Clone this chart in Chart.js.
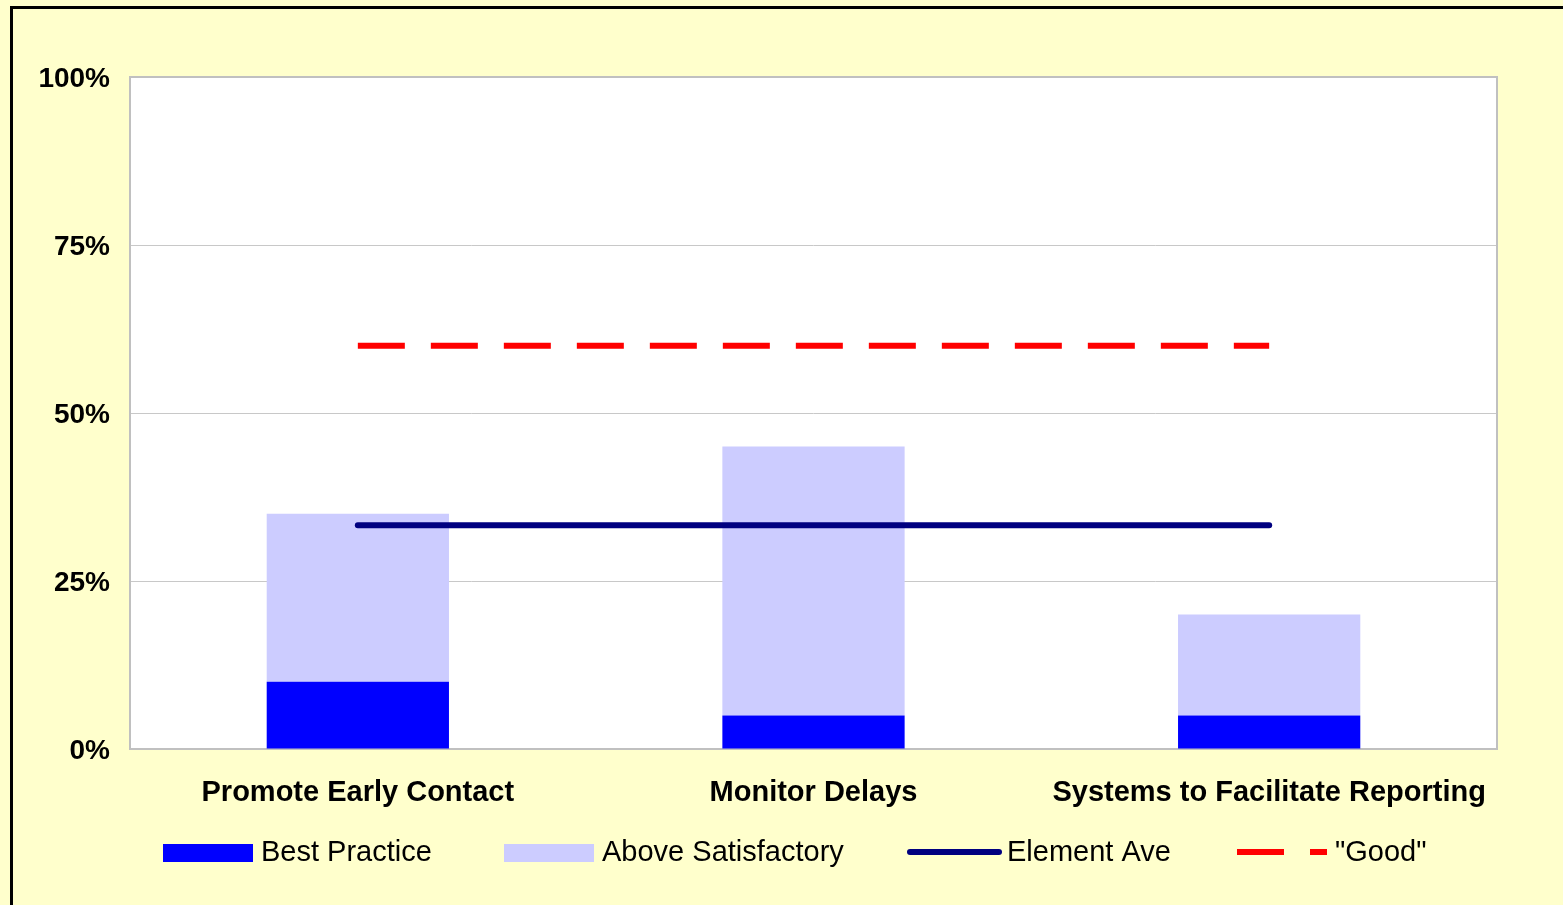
<!DOCTYPE html>
<html>
<head>
<meta charset="utf-8">
<title>Element scores</title>
<script src="https://cdn.jsdelivr.net/npm/chart.js@4/dist/chart.umd.min.js"></script>
<style>
  html, body { margin: 0; padding: 0; background: #FFFFCC; overflow: hidden; }
  #wrap { position: absolute; left: 0; top: 0; width: 1563px; height: 905px; }
</style>
</head>
<body>
<div id="wrap"><canvas id="chart" width="1563" height="905"></canvas></div>
<script>
// Categories and series (percent)
const categories = ['Promote Early Contact', 'Monitor Delays', 'Systems to Facilitate Reporting'];
const bestPractice = [10, 5, 5];
const aboveSatisfactory = [25, 40, 15];
const elementAve = [33.3, 33.3, 33.3];
const goodLevel = [60, 60, 60];
const yTicks = [0, 25, 50, 75, 100];

const FONT = '"Liberation Sans", Arial, sans-serif';

// Yellow page, black frame edge and white plot area
const framePlugin = {
  id: 'frame',
  beforeDraw(chart) {
    const { ctx, width, height, chartArea: a } = chart;
    ctx.save();
    ctx.fillStyle = '#FFFFCC';
    ctx.fillRect(0, 0, width, height);
    ctx.fillStyle = '#000000';
    ctx.fillRect(10, 6, 3, height);
    ctx.fillRect(10, 6, width, 3);
    ctx.fillStyle = '#FFFFFF';
    ctx.fillRect(a.left, a.top, a.right - a.left, a.bottom - a.top);
    ctx.restore();
  },
  beforeDatasetsDraw(chart) {
    const { ctx, chartArea: a } = chart;
    ctx.save();
    ctx.strokeStyle = '#C0C0C0';
    ctx.lineWidth = 2;
    ctx.strokeRect(a.left, a.top, a.right - a.left, a.bottom - a.top);
    ctx.restore();
  }
};

// Legend row under the category labels
const legendRow = {
  id: 'legendRow',
  afterDraw(chart, args, opts) {
    const { ctx } = chart;
    const y = opts.y;
    ctx.save();
    chart.data.datasets.forEach((ds, i) => {
      const item = opts.items[i];
      if (ds.type === 'line') {
        ctx.strokeStyle = ds.borderColor;
        ctx.lineWidth = ds.borderWidth;
        ctx.lineCap = ds.borderCapStyle || 'butt';
        ctx.setLineDash(ds.borderDash || []);
        const inset = ctx.lineCap === 'round' ? ds.borderWidth / 2 : 0;
        ctx.beginPath();
        ctx.moveTo(item.x + inset, y);
        ctx.lineTo(item.x + item.w - inset, y);
        ctx.stroke();
        ctx.setLineDash([]);
      } else {
        ctx.fillStyle = ds.backgroundColor;
        ctx.fillRect(item.x, y - 8, item.w, 18);
      }
      ctx.fillStyle = '#000000';
      ctx.font = '29px ' + FONT;
      ctx.textAlign = 'left';
      ctx.textBaseline = 'middle';
      ctx.fillText(ds.label, item.tx, y + 1);
    });
    ctx.restore();
  }
};

new Chart(document.getElementById('chart'), {
  data: {
    labels: categories,
    datasets: [
      { type: 'bar', label: 'Best Practice', data: bestPractice, backgroundColor: '#0000FF', stack: 'bars', order: 2,
        categoryPercentage: 0.8, barPercentage: 0.5 },
      { type: 'bar', label: 'Above Satisfactory', data: aboveSatisfactory, backgroundColor: '#CCCCFF', stack: 'bars', order: 2,
        categoryPercentage: 0.8, barPercentage: 0.5 },
      { type: 'line', label: 'Element Ave', data: elementAve, borderColor: '#000080', borderWidth: 6,
        borderCapStyle: 'round', pointRadius: 0, fill: false, tension: 0, stack: 'ave', order: 1 },
      { type: 'line', label: '"Good"', data: goodLevel, borderColor: '#FF0000', borderWidth: 6,
        borderDash: [47, 26], borderCapStyle: 'butt', pointRadius: 0, fill: false, tension: 0, stack: 'good', order: 1 }
    ]
  },
  options: {
    responsive: false,
    animation: false,
    layout: { padding: { top: 77, right: 66, left: 0, bottom: 0 } },
    plugins: {
      legend: { display: false },
      tooltip: { enabled: false },
      legendRow: {
        y: 852,
        items: [
          { x: 163, w: 90, tx: 261 },
          { x: 504, w: 90, tx: 602 },
          { x: 907, w: 95, tx: 1007 },
          { x: 1237, w: 90, tx: 1335 }
        ]
      }
    },
    scales: {
      x: {
        stacked: true,
        offset: true,
        grid: { display: false, drawTicks: false },
        border: { display: false },
        ticks: { color: '#000000', font: { family: FONT, size: 29, weight: 'bold' }, padding: 27,
                 maxRotation: 0, autoSkip: false },
        afterFit(scale) { scale.height = 156; }
      },
      y: {
        stacked: true,
        min: 0,
        max: 100,
        grid: { color: '#C8C8C8', lineWidth: 1, drawTicks: false },
        border: { display: false },
        ticks: { color: '#000000', font: { family: FONT, size: 28, weight: 'bold' }, padding: 20,
                 labelOffset: 2, callback: v => v + '%' },
        afterBuildTicks(scale) { scale.ticks = yTicks.map(v => ({ value: v })); },
        afterFit(scale) { scale.width = 130; }
      }
    }
  },
  plugins: [framePlugin, legendRow]
});
</script>
</body>
</html>
